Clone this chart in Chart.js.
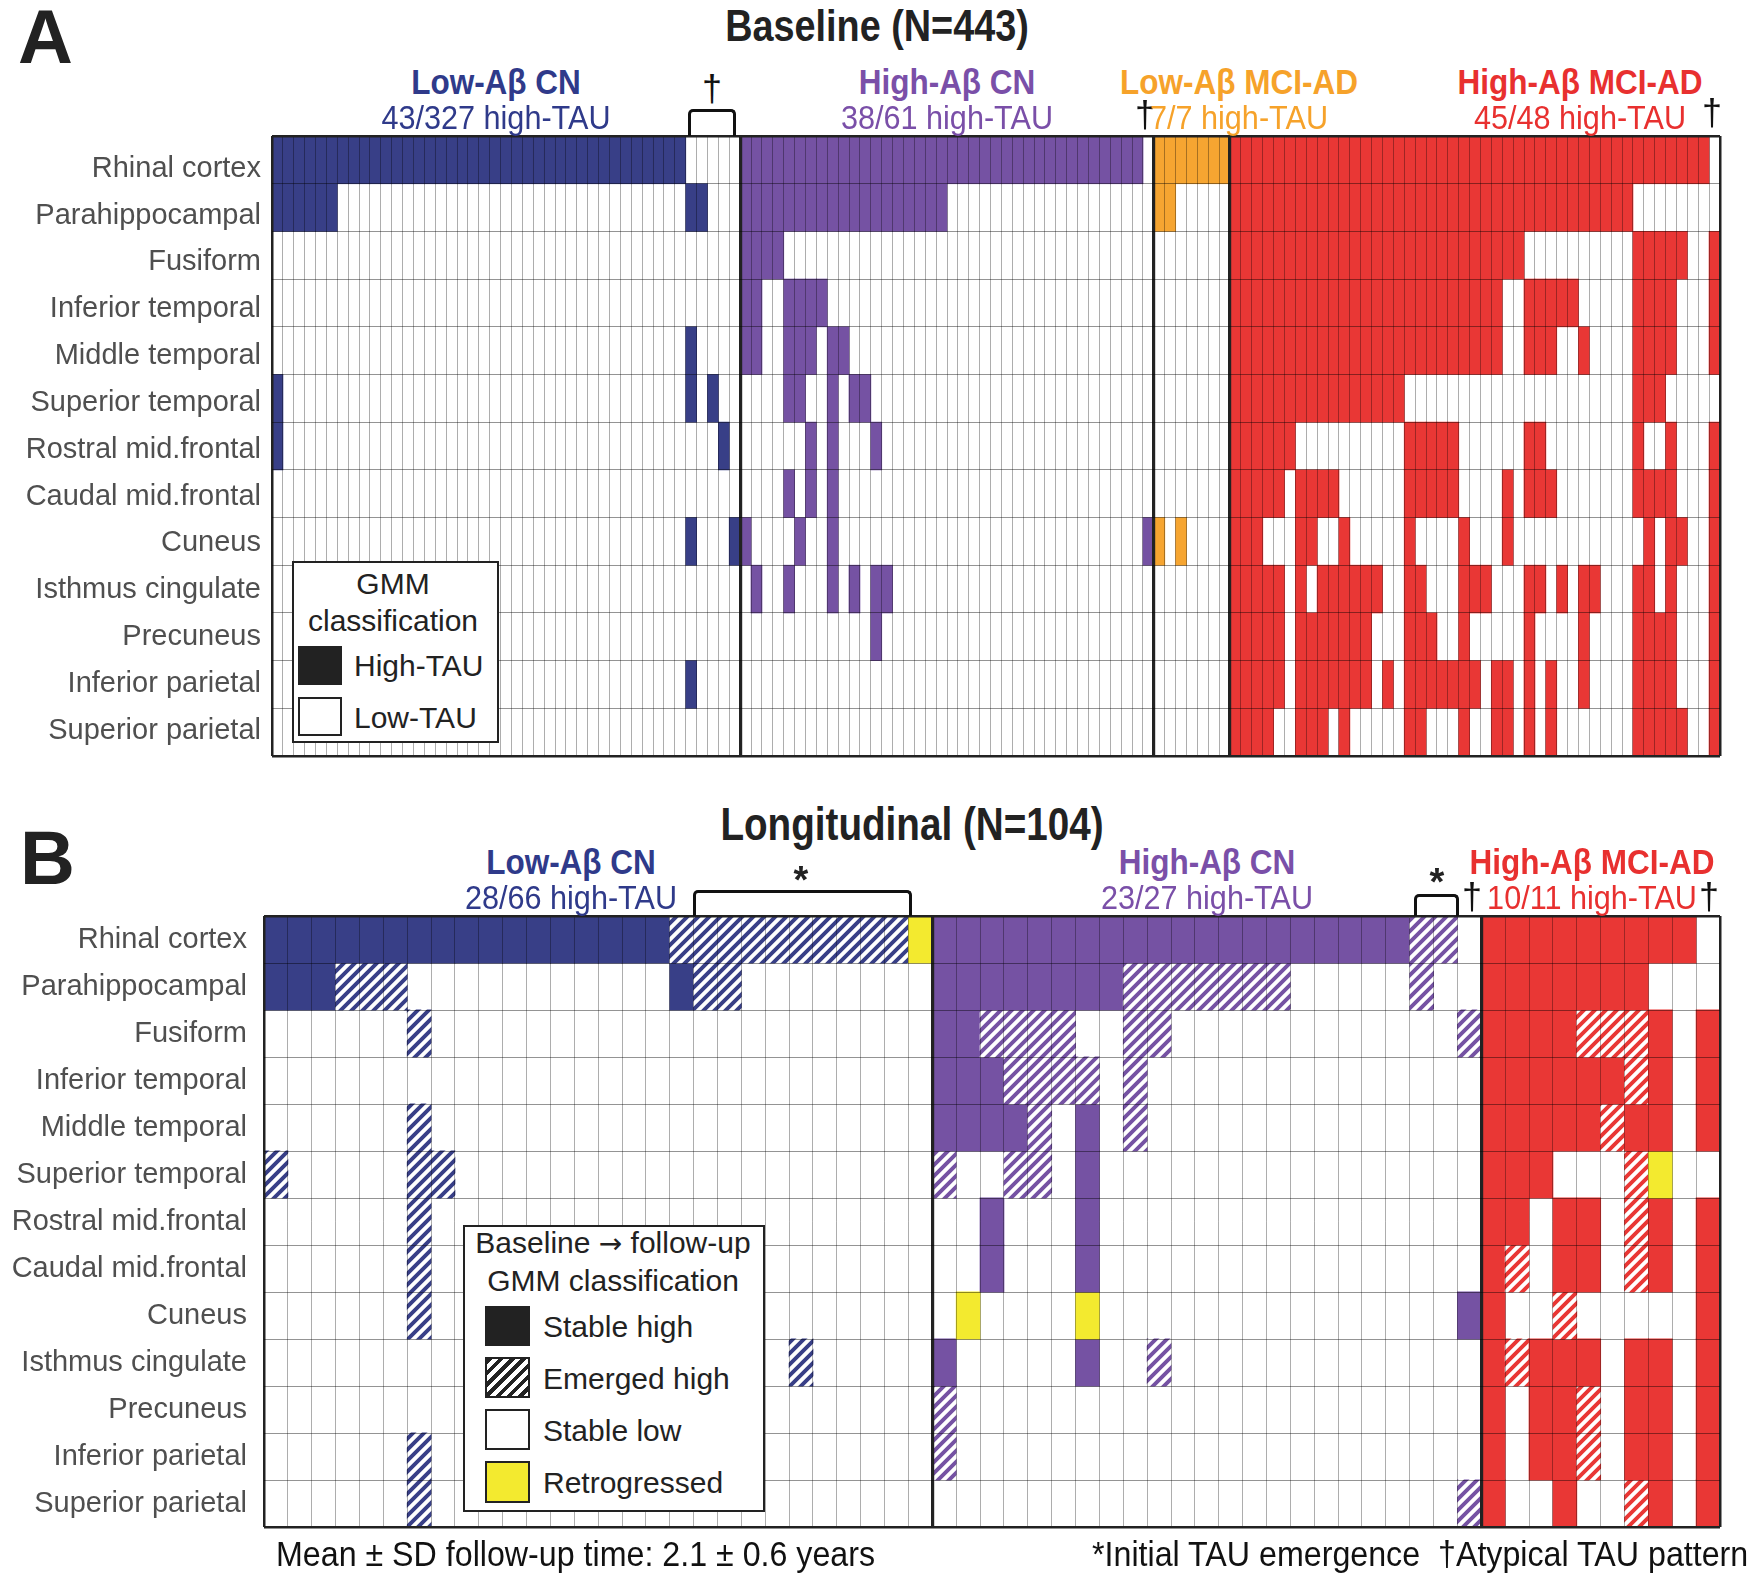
<!DOCTYPE html>
<html><head><meta charset="utf-8">
<script src="https://cdn.jsdelivr.net/npm/chart.js@4.4.1/dist/chart.umd.min.js"></script>
<style>
body{margin:0;background:#fff;width:1762px;height:1573px;position:relative;overflow:hidden;font-family:"Liberation Sans",Arial,Helvetica,sans-serif;color:#222;}
canvas{position:absolute;left:0;}
.c{position:absolute;white-space:pre;line-height:1;transform:translate(-50%,-50%) scaleX(var(--sx,1));}
.l{position:absolute;white-space:pre;line-height:1;transform-origin:0 50%;transform:translateY(-50%) scaleX(var(--sx,1));}
.b{font-weight:bold;}
.h{font-weight:bold;font-size:35px;--sx:.9;}
.s{font-size:34px;--sx:.9;}
.dg{font-size:36px;color:#111;}
.br{position:absolute;border:3px solid #111;border-bottom:none;border-radius:5px 5px 0 0;box-sizing:border-box;}
.box{position:absolute;border:2px solid #222;box-sizing:border-box;background:#fff;}
.sw{position:absolute;border:2px solid #222;box-sizing:border-box;}
.lg{font-size:30px;color:#222;}
.ar{font-family:"DejaVu Sans",sans-serif;font-size:28px;}
</style></head><body>
<canvas id="cA" width="1762" height="650" style="top:120px"></canvas>
<canvas id="cB" width="1762" height="640" style="top:900px"></canvas>

<!-- Panel A annotations -->
<div class="l b" style="left:18px;top:37px;font-size:76px;">A</div>
<div class="c b" style="left:877px;top:25px;font-size:45px;--sx:.84;">Baseline (N=443)</div>
<div class="c h" style="left:496px;top:81px;color:#2f3a8a;">Low-Aβ CN</div>
<div class="c s" style="left:496px;top:117px;color:#2f3a8a;">43/327 high-TAU</div>
<div class="c dg" style="left:712px;top:89px;">†</div>
<div class="br" style="left:688px;top:109px;width:48px;height:27px;"></div>
<div class="c h" style="left:947px;top:81px;color:#7a4fa8;">High-Aβ CN</div>
<div class="c s" style="left:947px;top:117px;color:#7a4fa8;">38/61 high-TAU</div>
<div class="c h" style="left:1239px;top:81px;color:#f6a22a;">Low-Aβ MCI-AD</div>
<div class="c dg" style="left:1145px;top:115px;">†</div>
<div class="c s" style="left:1239px;top:117px;color:#f6a22a;">7/7 high-TAU</div>
<div class="c h" style="left:1580px;top:81px;color:#e8302f;">High-Aβ MCI-AD</div>
<div class="c s" style="left:1580px;top:117px;color:#e8302f;">45/48 high-TAU</div>
<div class="c dg" style="left:1712px;top:113px;">†</div>

<div class="box" style="left:292px;top:561px;width:207px;height:182px;"></div>
<div class="c lg" style="left:393px;top:584px;">GMM</div>
<div class="c lg" style="left:393px;top:621px;">classification</div>
<div class="sw" style="left:298px;top:646px;width:44px;height:39px;background:#222;"></div>
<div class="l lg" style="left:354px;top:666px;">High-TAU</div>
<div class="sw" style="left:298px;top:697px;width:44px;height:39px;background:#fff;"></div>
<div class="l lg" style="left:354px;top:718px;">Low-TAU</div>

<!-- Panel B annotations -->
<div class="l b" style="left:20px;top:858px;font-size:76px;">B</div>
<div class="c b" style="left:912px;top:824px;font-size:46px;--sx:.84;">Longitudinal (N=104)</div>
<div class="c h" style="left:571px;top:861px;color:#2f3a8a;">Low-Aβ CN</div>
<div class="c s" style="left:571px;top:897px;color:#2f3a8a;">28/66 high-TAU</div>
<div class="c b" style="left:801px;top:880px;font-size:38px;">*</div>
<div class="br" style="left:693px;top:890px;width:219px;height:26px;"></div>
<div class="c h" style="left:1207px;top:861px;color:#7a4fa8;">High-Aβ CN</div>
<div class="c s" style="left:1207px;top:897px;color:#7a4fa8;">23/27 high-TAU</div>
<div class="c b" style="left:1437px;top:882px;font-size:38px;">*</div>
<div class="br" style="left:1414px;top:894px;width:45px;height:22px;"></div>
<div class="c dg" style="left:1472px;top:897px;">†</div>
<div class="c h" style="left:1592px;top:861px;color:#e8302f;">High-Aβ MCI-AD</div>
<div class="c s" style="left:1592px;top:897px;color:#e8302f;">10/11 high-TAU</div>
<div class="c dg" style="left:1709px;top:897px;">†</div>

<div class="box" style="left:463px;top:1225px;width:302px;height:287px;"></div>
<div class="c lg" style="left:613px;top:1243px;">Baseline <span class="ar">→</span> follow-up</div>
<div class="c lg" style="left:613px;top:1281px;">GMM classification</div>
<div class="sw" style="left:485px;top:1306px;width:45px;height:40px;background:#222;"></div>
<div class="l lg" style="left:543px;top:1327px;">Stable high</div>
<div class="sw" style="left:485px;top:1357px;width:45px;height:41px;background:repeating-linear-gradient(135deg,#222 0 3.8px,#fff 3.8px 8px);"></div>
<div class="l lg" style="left:543px;top:1379px;">Emerged high</div>
<div class="sw" style="left:485px;top:1409px;width:45px;height:41px;background:#fff;"></div>
<div class="l lg" style="left:543px;top:1431px;">Stable low</div>
<div class="sw" style="left:485px;top:1461px;width:45px;height:42px;background:#f3ea2f;"></div>
<div class="l lg" style="left:543px;top:1483px;">Retrogressed</div>

<div class="l" style="left:276px;top:1553px;font-size:35px;--sx:.92;color:#111;">Mean ± SD follow-up time: 2.1 ± 0.6 years</div>
<div class="l" style="left:1092px;top:1553px;font-size:35px;--sx:.92;color:#111;">*Initial TAU emergence  †Atypical TAU pattern</div>

<script>
// ---------- DATA ----------
const regions = ["Rhinal cortex","Parahippocampal","Fusiform","Inferior temporal","Middle temporal","Superior temporal","Rostral mid.frontal","Caudal mid.frontal","Cuneus","Isthmus cingulate","Precuneus","Inferior parietal","Superior parietal"];

// Panel A (baseline GMM classification): 1 = high-TAU, 0 = low-TAU; one string per region, one char per participant
const baseLowAbCN = [
"1111111111 1111111111 1111111111 1111111100 000",
"1111110000 0000000000 0000000000 0000000011 000",
"0000000000 0000000000 0000000000 0000000000 000",
"0000000000 0000000000 0000000000 0000000000 000",
"0000000000 0000000000 0000000000 0000000010 000",
"1000000000 0000000000 0000000000 0000000010 100",
"1000000000 0000000000 0000000000 0000000000 010",
"0000000000 0000000000 0000000000 0000000000 000",
"0000000000 0000000000 0000000000 0000000010 001",
"0000000000 0000000000 0000000000 0000000000 000",
"0000000000 0000000000 0000000000 0000000000 000",
"0000000000 0000000000 0000000000 0000000010 000",
"0000000000 0000000000 0000000000 0000000000 000"];
const baseHighAbCN = [
"1111111111 1111111111 1111111111 11111110",
"1111111111 1111111110 0000000000 00000000",
"1111000000 0000000000 0000000000 00000000",
"1100111100 0000000000 0000000000 00000000",
"1100111011 0000000000 0000000000 00000000",
"0000110010 1100000000 0000000000 00000000",
"0000001010 0010000000 0000000000 00000000",
"0000101010 0000000000 0000000000 00000000",
"1000010010 0000000000 0000000000 00000001",
"0100100010 1011000000 0000000000 00000000",
"0000000000 0010000000 0000000000 00000000",
"0000000000 0000000000 0000000000 00000000",
"0000000000 0000000000 0000000000 00000000"];
const baseLowAbMCI = [
"1111111","1100000","0000000","0000000","0000000","0000000","0000000",
"0000000","1010000","0000000","0000000","0000000","0000000"];
const baseHighAbMCI = [
"1111111111 1111111111 1111111111 1111111111 11110",
"1111111111 1111111111 1111111111 1111111000 00000",
"1111111111 1111111111 1111111000 0000000111 11001",
"1111111111 1111111111 1111100111 1100000111 10001",
"1111111111 1111111111 1111100111 0010000111 10001",
"1111111111 1111110000 0000000000 0000000111 00000",
"1111110000 0000001111 1000000110 0000000100 10001",
"1111101111 0000001111 1000010111 0000000111 10001",
"1110001100 1000001000 0100010000 0000000010 11001",
"1111101011 1111001100 0111000110 1011000110 10001",
"1111101111 1110001110 0100000100 0010000111 10001",
"1111101111 1110101111 1110110101 0010000111 10001",
"1111001110 1000001100 0100110101 0000000111 11001"];

// Panel B (baseline -> follow-up): S stable high, E emerged high, . stable low, R retrogressed
const longLowAbCN = [
"SSSSSSSSSS SSSSSSSEEE EEEEEEER",
"SSSEEE.... .......SEE ........",
"......E... .......... ........",
".......... .......... ........",
"......E... .......... ........",
"E.....EE.. .......... ........",
"......E... .......... ........",
"......E... .......... ........",
"......E... .......... ........",
".......... .......... ..E.....",
".......... .......... ........",
"......E... .......... ........",
"......E... .......... ........"];
const longHighAbCN = [
"SSSSSSSSSS SSSSSSSSSS EE.",
"SSSSSSSSEE EEEEE..... E..",
"SSEEEE..EE .......... ..E",
"SSSEEEE.E. .......... ...",
"SSSSE.S.E. .......... ...",
"E..EE.S... .......... ...",
"..S...S... .......... ...",
"..S...S... .......... ...",
".R....R... .......... ..S",
"S.....S..E .......... ...",
"E......... .......... ...",
"E......... .......... ...",
".......... .......... ..E"];
const longHighAbMCI = [
"SSSSSSSSS.","SSSSSSS...","SSSSEEES.S","SSSSSSES.S","SSSSSESS.S",
"SSS...ER..","SS.SS.ES.S","SE.SS.ES.S","S..E.....S","SESSS.SS.S",
"S.SSE.SS.S","S.SSE.SS.S","S..S..ES.S"];

// ---------- STYLE ----------
const NAVY = '#383f87', PURPLE = '#7552a3', ORANGE = '#f6a531', RED = '#e93735', YELLOW = '#f3ea2f';
const FONT = '"Liberation Sans", Arial, Helvetica, sans-serif';

const patCache = {};
function hatch(color) {
  if (patCache[color]) return patCache[color];
  const P = 11;
  const c = document.createElement('canvas'); c.width = P; c.height = P;
  const g = c.getContext('2d');
  g.fillStyle = '#fff'; g.fillRect(0, 0, P, P);
  g.strokeStyle = color; g.lineWidth = 3.9; g.lineCap = 'square';
  g.beginPath();
  g.moveTo(-2, P + 2); g.lineTo(P + 2, -2);
  g.moveTo(-3, 3); g.lineTo(3, -3);
  g.moveTo(P - 3, P + 3); g.lineTo(P + 3, P - 3);
  g.stroke();
  return (patCache[color] = g.createPattern(c, 'repeat'));
}

function buildPanel(groups) {
  const labels = [], boundaries = [];
  let n = 0;
  groups.forEach((g, gi) => {
    const len = g.rows[0].replace(/ /g, '').length;
    if (gi > 0) boundaries.push(n);
    for (let i = 0; i < len; i++) labels.push('P' + (n + i + 1));
    n += len;
  });
  const datasets = regions.map((name, r) => {
    const data = [], colors = [];
    groups.forEach(g => {
      for (const ch of g.rows[r].replace(/ /g, '')) {
        if (ch === '0' || ch === '.') { data.push(null); colors.push('rgba(0,0,0,0)'); }
        else {
          data.push([r, r + 1]);
          colors.push(ch === 'E' ? hatch(g.color) : ch === 'R' ? YELLOW : g.color);
        }
      }
    });
    return { label: name, data, backgroundColor: colors, yAxisID: 'y', xAxisID: 'x' };
  });
  return { labels, datasets, boundaries };
}

function makeChart(id, panel, yWidth, pad, labelPad, labelRange) {
  const frame = '#222';
  const nR = regions.length;
  new Chart(document.getElementById(id), {
    type: 'bar',
    data: { labels: panel.labels, datasets: panel.datasets },
    options: {
      responsive: false, animation: false, events: [],
      layout: { padding: pad },
      plugins: { legend: { display: false }, tooltip: { enabled: false } },
      datasets: { bar: { grouped: false, barPercentage: 1, categoryPercentage: 1, borderWidth: 0, borderSkipped: false, inflateAmount: 0.4 } },
      scales: {
        x: {
          type: 'category', offset: true,
          grid: {
            z: 1, offset: true, drawTicks: false,
            color: ctx => (ctx.type !== 'tick' || ctx.index === 0 || panel.boundaries.includes(ctx.index)) ? frame : 'rgba(0,0,0,0.32)',
            lineWidth: ctx => (ctx.type !== 'tick' || ctx.index === 0) ? 2.5 : panel.boundaries.includes(ctx.index) ? 3.2 : 1
          },
          border: { display: false },
          ticks: { display: false, autoSkip: false },
          afterFit: s => { s.height = 0; s.paddingLeft = 0; s.paddingRight = 0; }
        },
        yl: {
          type: 'linear', position: 'left', min: labelRange[0], max: labelRange[1], reverse: true,
          afterBuildTicks: s => { s.ticks = regions.map((_, i) => ({ value: i + 0.5 })); },
          grid: { display: false, drawTicks: false },
          border: { display: false },
          ticks: {
            autoSkip: false, padding: labelPad, color: '#4f4f4f',
            font: { family: FONT, size: 29 },
            callback: (v, i) => regions[i] || ''
          },
          afterFit: s => { s.width = yWidth; s.paddingTop = 0; s.paddingBottom = 0; }
        },
        y: {
          type: 'linear', position: 'left', min: 0, max: nR, reverse: true,
          afterBuildTicks: s => { s.ticks = regions.map((_, i) => ({ value: i })).concat([{ value: nR }]); },
          grid: {
            z: 1, drawTicks: false,
            color: ctx => (ctx.index === 0 || ctx.index === nR) ? frame : 'rgba(0,0,0,0.42)',
            lineWidth: ctx => (ctx.index === 0 || ctx.index === nR) ? 2.5 : 1
          },
          border: { display: false },
          ticks: { display: false },
          afterFit: s => { s.width = 0; s.paddingTop = 0; s.paddingBottom = 0; }
        }
      }
    }
  });
}

const panelA = buildPanel([
  { rows: baseLowAbCN, color: NAVY },
  { rows: baseHighAbCN, color: PURPLE },
  { rows: baseLowAbMCI, color: ORANGE },
  { rows: baseHighAbMCI, color: RED }
]);
const panelB = buildPanel([
  { rows: longLowAbCN, color: NAVY },
  { rows: longHighAbCN, color: PURPLE },
  { rows: longHighAbMCI, color: RED }
]);

makeChart('cA', panelA, 272, { top: 16, bottom: 14, left: 0, right: 42 }, 11, [-0.2, 13.04]);
makeChart('cB', panelB, 264, { top: 16, bottom: 13, left: 0, right: 42 }, 17, [0, 13]);
</script>
</body></html>
